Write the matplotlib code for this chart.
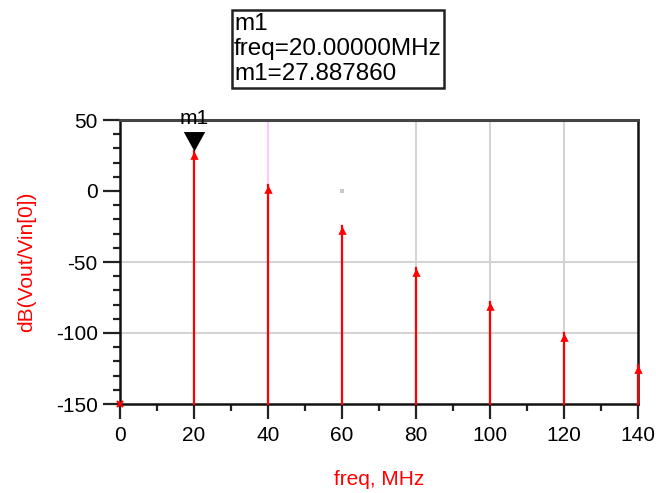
import matplotlib
matplotlib.use("Agg")
import matplotlib.pyplot as plt
from matplotlib.ticker import MultipleLocator
import numpy as np

plt.rcParams['font.family'] = ['Liberation Sans', 'DejaVu Sans']
plt.rcParams['axes.unicode_minus'] = False

# harmonic spectrum
freq_mhz = [0, 20, 40, 60, 80, 100, 120, 140]
db_vals = [-150, 27.887860, 4.0, -24.5, -54.0, -78.5, -100.0, -122.5]
marker_name = "m1"
marker_freq = 20.0
marker_val = 27.887860

red = '#ff0000'

# arrow heads with the tip on the data point (ADS style)
up_tip = [(0, 0), (-0.5, -1), (0.5, -1), (0, 0)]
down_tip = [(0, 0), (-0.55, 1), (0.55, 1), (0, 0)]

fig = plt.figure(figsize=(6.56, 4.93), dpi=100)
ax = fig.add_axes([120/656, 1-404/493, (638-120)/656, (404-120)/493])
ax.set_xlim(0, 140)
ax.set_ylim(-150, 50)

# odd partial grid like the ADS export
for gx in [80, 100, 120]:
    ax.axvline(gx, color='#d4d4d4', lw=1.5, zorder=1)
for gy in [-50, -100]:
    ax.axhline(gy, color='#d4d4d4', lw=1.5, zorder=1)
ax.plot([40, 40], [db_vals[2], 50], color='#ffc8ff', lw=1.5, zorder=1)
ax.plot([60], [0], 's', color='#c8c8c8', ms=2.5, mew=0, zorder=1)

# stems
for f, v in zip(freq_mhz[1:], db_vals[1:]):
    ax.plot([f, f], [-150, v], color=red, lw=1.6, zorder=3, clip_on=False)
ax.plot(freq_mhz[1:], db_vals[1:], marker=up_tip, ls='none', color=red,
        ms=12, mew=0, zorder=4, clip_on=False)
ax.plot(freq_mhz[0], db_vals[0], 'x', color=red, ms=5, mew=1.5,
        zorder=4, clip_on=False)

# marker m1
ax.plot(marker_freq, marker_val, marker=down_tip, ls='none', color='black',
        ms=28, mew=0, clip_on=False, zorder=5)
ax.annotate(marker_name, (marker_freq, marker_val), xytext=(0, 24),
            textcoords='offset points', ha='center', va='center',
            fontsize=15, zorder=6, annotation_clip=False)

# ticks
ax.xaxis.set_major_locator(MultipleLocator(20))
ax.xaxis.set_minor_locator(MultipleLocator(10))
ax.yaxis.set_major_locator(MultipleLocator(50))
ax.yaxis.set_minor_locator(MultipleLocator(10))
ax.tick_params(axis='both', which='major', direction='out', length=11,
               width=1.6, labelsize=15, color='#222222', pad=5)
ax.tick_params(axis='both', which='minor', direction='out', length=5,
               width=1.6, color='#222222')
ax.tick_params(axis='y', which='major', length=12, pad=4)

for s in ['left', 'bottom', 'right']:
    ax.spines[s].set_linewidth(1.8)
    ax.spines[s].set_color('#111111')
ax.spines['top'].set_linewidth(2.2)
ax.spines['top'].set_color('#444444')

ax.set_xlabel('freq, MHz', color=red, fontsize=15, labelpad=18)
ax.set_ylabel('dB(Vout/Vin[0])', color=red, fontsize=15, labelpad=14)

# readout box
fig.text(234/656, 1-49/493,
         f"{marker_name}\nfreq={marker_freq:.5f}MHz\n{marker_name}={marker_val:.6f}",
         fontsize=17.5, ha='left', va='center', linespacing=1.2,
         bbox=dict(boxstyle='square,pad=0.1', fc='white', ec='#222222', lw=1.8))

fig.savefig('out.png', dpi=100)
